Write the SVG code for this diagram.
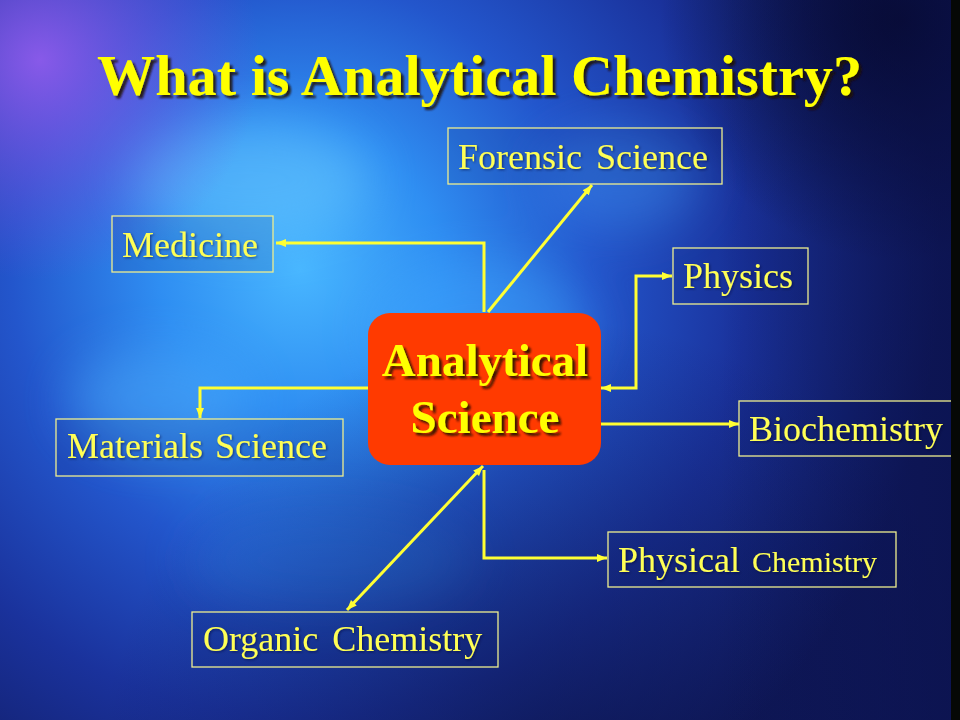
<svg xmlns="http://www.w3.org/2000/svg" width="960" height="720" viewBox="0 0 960 720">
  <defs>
    <radialGradient id="bg" cx="300" cy="270" r="640" gradientUnits="userSpaceOnUse">
      <stop offset="0" stop-color="#48b6ff"/>
      <stop offset="0.22" stop-color="#2f8ef2"/>
      <stop offset="0.45" stop-color="#2356cc"/>
      <stop offset="0.7" stop-color="#1a329c"/>
      <stop offset="1" stop-color="#101a60"/>
    </radialGradient>
    <linearGradient id="rightDark" x1="0" y1="0" x2="1" y2="0">
      <stop offset="0" stop-color="#0a1048" stop-opacity="0"/>
      <stop offset="1" stop-color="#0a1048" stop-opacity="0.6"/>
    </linearGradient>
    <radialGradient id="topRight" cx="900" cy="20" r="240" gradientUnits="userSpaceOnUse">
      <stop offset="0" stop-color="#06082a" stop-opacity="0.95"/>
      <stop offset="1" stop-color="#06082a" stop-opacity="0"/>
    </radialGradient>
    <radialGradient id="purple" cx="40" cy="60" r="220" gradientUnits="userSpaceOnUse">
      <stop offset="0" stop-color="#9a5cf0" stop-opacity="0.85"/>
      <stop offset="1" stop-color="#7a4ae0" stop-opacity="0"/>
    </radialGradient>
    <radialGradient id="bottomDark" cx="560" cy="780" r="460" gradientUnits="userSpaceOnUse">
      <stop offset="0" stop-color="#0a1040" stop-opacity="0.6"/>
      <stop offset="1" stop-color="#0a1040" stop-opacity="0"/>
    </radialGradient>
    <filter id="blur" x="-50%" y="-50%" width="200%" height="200%">
      <feGaussianBlur stdDeviation="25"/>
    </filter>
    <filter id="shadow" x="-10%" y="-20%" width="120%" height="140%">
      <feDropShadow dx="3" dy="3" stdDeviation="1.2" flood-color="#1a1000" flood-opacity="0.85"/>
    </filter>
    <filter id="glow" x="-10%" y="-30%" width="120%" height="160%">
      <feDropShadow dx="1.2" dy="1.2" stdDeviation="0.8" flood-color="#000030" flood-opacity="0.5"/>
    </filter>
    <marker id="arr" markerUnits="userSpaceOnUse" markerWidth="11" markerHeight="9" refX="10" refY="4.5" orient="auto-start-reverse" viewBox="0 0 11 9">
      <path d="M0,0.5 L10,4.5 L0,8.5 Z" fill="#ffff33"/>
    </marker>
    <style>
      .box { fill: #0a1660; fill-opacity: 0.12; stroke: #eeee90; stroke-width: 1.3; }
      .lbl { font-family: "Liberation Serif", "Times New Roman", serif; font-size: 36px; fill: #ffff55; }
      .con { fill: none; stroke: #ffff33; stroke-width: 3; }
      .title { font-family: "Liberation Serif", "Times New Roman", serif; font-weight: bold; fill: #ffff00; }
    </style>
  </defs>

  <!-- background -->
  <rect x="0" y="0" width="960" height="720" fill="url(#bg)"/>
  <g filter="url(#blur)" opacity="0.45">
    <ellipse cx="250" cy="180" rx="120" ry="60" fill="#6fd0ff"/>
    <ellipse cx="480" cy="330" rx="110" ry="70" fill="#3fa8ff"/>
    <ellipse cx="160" cy="400" rx="90" ry="50" fill="#4fb4ff"/>
    <ellipse cx="620" cy="180" rx="80" ry="50" fill="#3c90f0"/>
    <ellipse cx="330" cy="560" rx="140" ry="50" fill="#2a7ae0"/>
  </g>
  <rect x="0" y="0" width="960" height="720" fill="url(#purple)"/>
  <rect x="0" y="0" width="960" height="720" fill="url(#topRight)"/>
  <rect x="0" y="0" width="960" height="720" fill="url(#bottomDark)"/>
  <rect x="720" y="0" width="240" height="720" fill="url(#rightDark)"/>

  <!-- title -->
  <text class="title" x="97" y="95" font-size="58" textLength="765" lengthAdjust="spacingAndGlyphs" filter="url(#shadow)">What is Analytical Chemistry?</text>

  <!-- connectors -->
  <g id="connectors">
    <path class="con" d="M484,312 V243 H276" marker-end="url(#arr)"/>
    <path class="con" d="M488,312 L592,185" marker-end="url(#arr)"/>
    <path class="con" d="M601,388 H636 V276 H672" marker-start="url(#arr)" marker-end="url(#arr)"/>
    <path class="con" d="M601,424 H739" marker-end="url(#arr)"/>
    <path class="con" d="M368,388 H200 V418" marker-end="url(#arr)"/>
    <path class="con" d="M483,466 L347,610" marker-start="url(#arr)" marker-end="url(#arr)"/>
    <path class="con" d="M484,470 V558 H607" marker-end="url(#arr)"/>
  </g>

  <!-- central node -->
  <g id="analytical-science">
    <rect x="368" y="313" width="233" height="152" rx="22" ry="22" fill="#ff3a00"/>
    <g class="title" font-size="47" text-anchor="middle" filter="url(#shadow)">
      <text x="485" y="376">Analytical</text>
      <text x="485" y="433">Science</text>
    </g>
  </g>

  <g id="forensic-science">
    <rect class="box" x="448" y="128" width="274" height="56"/>
    <text class="lbl" x="458" y="169" word-spacing="5" filter="url(#glow)">Forensic Science</text>
  </g>

  <g id="medicine">
    <rect class="box" x="112" y="216" width="161" height="56"/>
    <text class="lbl" x="122" y="257" filter="url(#glow)">Medicine</text>
  </g>

  <g id="physics">
    <rect class="box" x="673" y="248" width="135" height="56"/>
    <text class="lbl" x="683" y="288" filter="url(#glow)">Physics</text>
  </g>

  <g id="biochemistry">
    <rect class="box" x="739" y="401" width="230" height="55"/>
    <text class="lbl" x="749" y="441" filter="url(#glow)">Biochemistry</text>
  </g>

  <g id="materials-science">
    <rect class="box" x="56" y="419" width="287" height="57"/>
    <text class="lbl" x="67" y="458" word-spacing="3" filter="url(#glow)">Materials Science</text>
  </g>

  <g id="physical-chemistry">
    <rect class="box" x="608" y="532" width="288" height="55"/>
    <text class="lbl" x="618" y="572" filter="url(#glow)">Physical <tspan font-size="30" dx="3">Chemistry</tspan></text>
  </g>

  <g id="organic-chemistry">
    <rect class="box" x="192" y="612" width="306" height="55"/>
    <text class="lbl" x="203" y="651" word-spacing="5" filter="url(#glow)">Organic Chemistry</text>
  </g>

  <!-- dark edge strip -->
  <rect x="951" y="0" width="9" height="720" fill="#060806"/>
</svg>
